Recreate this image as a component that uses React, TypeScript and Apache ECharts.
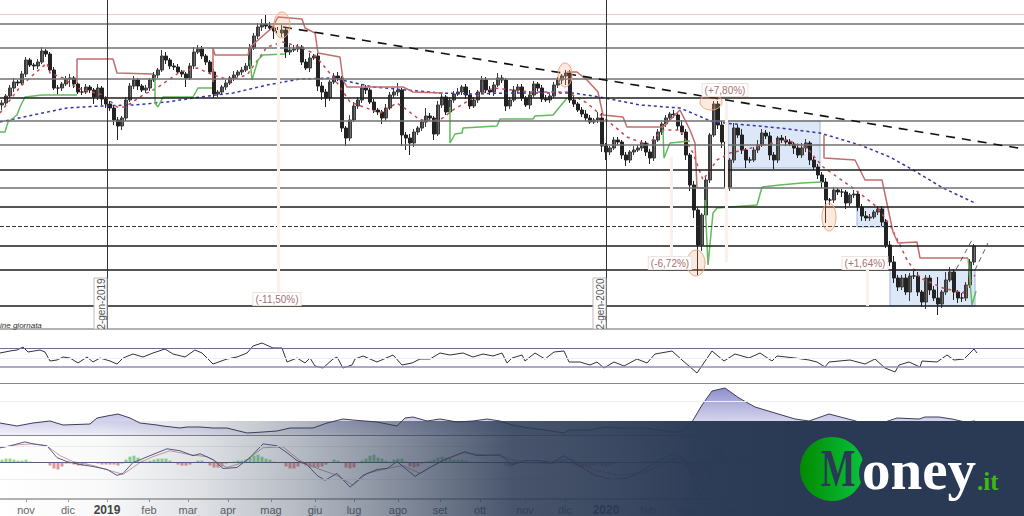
import React, { useEffect, useRef } from "react";
import * as echarts from "echarts";

// All price readings are depths: the price axis runs downward.
const closes = [
  103,96,88,82,83,74,60,65,66,62, 51,54,70,88,88,84,79,78,84,92,
  92,87,90,97,88,99,104,108,120,126, 118,100,86,80,86,90,88,80,75,70,
  56,60,66,67,72,74,78,66,52,49, 56,62,72,94,92,87,83,78,75,72,
  70,66,48,36,27,24,26,28,31,33, 30,52,50,49,47,62,68,58,56,86,
  92,98,82,76,78,128,138,120,106,100, 88,90,102,110,112,118,108,95,92,90,
  135,138,143,132,128,122,116,118,134,105, 97,112,100,94,92,87,95,106,100,92,
  80,90,92,85,78,80,106,100,90,87, 98,105,95,84,88,99,100,96,85,80,
  76,73,100,104,110,114,118,122,120,118, 146,152,148,140,142,155,160,152,150,148,
  143,152,158,140,132,124,118,114,115,126, 132,155,185,210,245,215,180,135,104,125,
  142,187,160,128,135,150,160,160,150,145, 133,136,155,160,138,140,142,144,148,155,
  148,143,160,167,175,182,200,200,190,192, 192,203,195,194,207,216,218,217,212,209,
  222,245,262,278,287,278,292,276,276,292, 302,278,290,298,304,292,280,272,292,298,
  298,285,262,246,
];
const upperWicks = [
  3,2,3,4,2,3,3,2,2,3, 4,2,2,3,3,2,3,4,2,2, 5,3,2,2,4,2,3,3,2,3, 2,3,3,4,2,2,3,2,3,2,
  6,4,2,3,3,2,2,3,5,4, 3,2,2,3,2,2,3,2,4,2, 3,3,4,3,4,5,9,4,5,4, 5,3,5,4,3,2,3,5,2,3,
  4,3,2,3,4,2,2,5,4,3, 4,3,2,3,2,2,4,3,4,7, 2,3,4,3,2,3,8,3,2,4, 3,2,3,3,4,2,3,5,3,2,
  4,3,4,3,5,3,2,3,4,3, 3,2,4,3,2,3,4,2,3,3, 2,3,3,4,2,3,4,3,2,6, 5,3,2,3,3,2,3,2,4,3,
  3,2,3,4,3,2,3,2,4,3, 6,3,2,4,3,2,3,2,3,3, 4,3,2,5,3,6,2,3,3,5, 4,3,4,3,2,3,4,3,2,3,
  5,4,2,3,3,3,4,2,3,2, 3,2,2,4,3,3,5,3,2,3, 3,3,4,6,3,3,4,3,5,4, 2,3,3,4,21,2,8,5,3,2,
  5,3,3,2,4,3,5,3,2,6, 3,3,4,3,
];
const lowerWicks = [
  5,3,2,4,3,2,3,2,4,3, 2,3,3,2,6,3,2,8,4,2, 3,2,3,7,3,6,4,3,5,14, 4,3,2,3,4,2,3,3,2,3,
  2,4,3,3,2,3,9,2,3,2, 3,3,2,4,3,2,3,2,3,2, 3,2,3,2,3,4,3,2,8,3, 4,6,3,2,3,3,2,4,2,5,
  8,9,3,2,3,4,8,3,2,3, 3,4,2,3,3,6,3,2,3,4, 11,12,12,4,3,3,5,3,6,2, 3,3,2,3,2,3,4,3,2,3,
  2,3,3,4,2,3,5,3,2,3, 3,2,4,2,3,3,2,3,2,3, 4,9,3,3,2,3,3,2,2,3, 6,8,3,2,3,4,6,3,3,2,
  3,4,6,3,2,3,3,2,3,4, 3,5,6,8,30,6,4,3,2,4, 6,12,4,3,3,4,8,3,2,3, 2,3,5,9,3,3,4,2,6,3,
  3,4,5,3,4,6,23,5,3,3, 5,6,3,3,4,5,3,3,2,3, 4,3,4,5,4,3,3,9,3,4, 5,7,5,3,11,4,3,2,8,5,
  4,3,3,3,
];

const blueAverage = [[0,122],[33,115],[67,108],[100,106],[133,105],[167,102],[200,97],[233,93],[267,85],[300,79],[333,78],[373,87],[407,90],[440,93],[473,94],[507,93],[540,93],[573,93],[600,97],[640,105],[680,108],[713,122],[747,125],[780,128],[820,133],[860,145],[890,157],[913,170],[943,188],[975,203]];
const redAverage = [[0,113],[10,100],[20,87],[33,75],[47,63],[50,73],[63,78],[77,88],[103,95],[117,107],[125,107],[143,95],[157,88],[180,72],[197,68],[213,75],[230,80],[247,75],[267,47],[283,42],[300,47],[313,53],[333,77],[340,87],[350,102],[380,113],[397,103],[407,110],[420,120],[440,120],[453,110],[473,98],[493,88],[530,92],[567,92],[587,103],[603,117],[627,137],[647,145],[663,130],[680,130],[693,153],[703,180],[717,160],[730,153],[743,150],[763,145],[787,140],[807,148],[823,167],[853,188],[877,207],[890,225],[900,245],[907,260],[920,278],[943,288],[963,293],[975,275]];
const redStops = [
  [[77,83],[77,59],[113,59],[117,73],[153,74]],
  [[213,82],[213,48],[215,55],[248,55],[250,47],[272,28],[278,17],[302,19],[305,28],[315,33],[318,53],[340,57],[343,80],[347,87],[403,87],[413,92],[443,93]],
  [[567,72],[577,72],[587,80],[598,92],[603,115],[623,117],[627,127],[663,127],[680,110],[690,130],[695,143],[697,188],[705,188]],
  [[824,135],[824,158],[855,160],[865,180],[882,180],[893,232],[898,243],[917,242],[920,258],[968,258]],
];
const greenStops = [
  [[0,132],[5,132],[8,122],[17,115],[20,107],[25,97],[42,95],[77,95]],
  [[155,77],[155,103],[158,107],[163,97],[193,97],[198,88],[212,88]],
  [[250,60],[252,80],[258,60],[263,55],[285,54]],
  [[450,107],[450,143],[455,134],[462,133],[463,128],[497,126],[500,119],[533,119],[535,116],[553,115],[567,98]],
  [[663,130],[664,158],[670,143],[690,141]],
  [[705,200],[708,265],[713,213],[717,208],[757,205],[762,187],[780,185],[802,183],[822,182]],
  [[968,258],[972,305],[976,291]],
];
const trendLine = [[283,27],[1024,149]];
const channelA = [[952,277],[973,238]];
const channelB = [[975,270],[988,243]];

const grayLevels = [24,48,79,121,145,188];
const blackLevels = [98,170,207,246,270,306];
const paleLevels = [14];
const dashedLevels = [226];
const dateLines = [107,606];
const paleDateLines: number[][] = [[278,30,292],[671,157,262],[726,100,262],[867,270,306]];

const rsi = [[0,353],[10,351],[17,350],[23,347],[28,352],[40,350],[45,352],[50,361],[57,360],[63,357],[70,358],[78,363],[87,357],[93,362],[100,358],[110,361],[117,364],[123,358],[133,354],[143,357],[153,353],[165,349],[173,354],[185,357],[195,350],[202,353],[213,364],[227,359],[237,357],[247,353],[253,346],[262,343],[273,348],[282,348],[287,362],[297,358],[305,363],[310,358],[315,366],[323,368],[333,359],[337,357],[343,368],[352,365],[355,359],[363,356],[377,362],[393,355],[402,365],[412,363],[420,359],[430,359],[440,353],[450,355],[463,353],[473,357],[483,354],[493,356],[502,353],[507,363],[512,358],[522,355],[525,361],[535,353],[545,359],[554,352],[564,351],[569,362],[580,362],[590,365],[597,362],[604,368],[614,362],[624,366],[637,359],[647,363],[655,354],[672,351],[682,360],[697,373],[712,351],[724,361],[735,354],[749,358],[760,353],[772,361],[777,356],[795,358],[809,360],[817,362],[825,367],[829,362],[850,360],[865,364],[875,359],[885,368],[895,372],[899,365],[909,362],[920,367],[922,361],[937,362],[947,355],[954,360],[964,359],[974,349],[977,353]];
const rsiUpper = 348.5;
const rsiMiddle = 358;
const rsiLower = 366.5;

const volatility = [[0,423],[17,426],[33,423],[50,421],[63,425],[90,424],[97,418],[107,416],[118,414],[130,418],[140,423],[157,425],[163,426],[180,428],[187,427],[200,427],[213,428],[227,428],[247,433],[263,432],[277,431],[290,428],[313,428],[327,423],[343,419],[353,420],[377,422],[397,426],[405,418],[413,417],[427,421],[440,419],[457,422],[473,421],[487,419],[500,421],[512,425],[529,428],[545,430],[564,433],[569,430],[589,430],[605,427],[622,428],[645,428],[672,432],[682,431],[692,422],[702,405],[712,391],[725,388],[739,398],[755,407],[775,413],[795,419],[809,421],[829,414],[852,420],[859,422],[879,424],[897,418],[919,419],[925,417],[939,417],[952,419],[965,422],[975,421]];

const macdFast = [[0,15],[10,17],[25,21],[33,19],[47,17],[57,5],[67,1],[80,-2],[93,-4],[107,-7],[117,-13],[123,-11],[133,0],[150,7],[167,14],[180,12],[193,7],[200,9],[213,3],[223,-6],[237,-5],[250,5],[263,19],[277,17],[287,10],[297,2],[307,-2],[317,-13],[325,-18],[337,-11],[350,-25],[363,-13],[377,-7],[387,-6],[397,1],[415,-14],[430,-5],[447,4],[465,11],[477,7],[500,8],[512,-2],[525,2],[539,2],[552,0],[564,7],[579,-3],[595,-13],[612,-17],[627,-16],[645,-7],[659,3],[675,9],[685,3],[695,-22],[700,-34],[709,-20],[715,15],[725,0],[739,7],[752,0],[765,7],[779,2],[812,2],[845,0],[879,2]];
const macdSlow = [[0,15],[17,18],[33,19],[47,17],[60,7],[73,1],[93,-3],[113,-9],[123,-12],[140,0],[153,6],[170,12],[190,8],[207,6],[227,-5],[243,0],[263,15],[283,16],[300,2],[320,-7],[337,-13],[353,-23],[367,-11],[387,-6],[403,-3],[420,-11],[440,1],[463,10],[480,8],[500,7],[512,3],[525,0],[552,-1],[570,4],[595,-8],[620,-13],[645,-10],[670,2],[680,6],[695,-8],[705,-30],[720,0],[735,5],[755,2],[780,2],[830,1],[880,1]];
const macdHist = [
  3,4,4,3,2,2,3,1,0,0, 0,0,-3,-6,-7,-4,-1,-1,-2,-3, -3,-1,0,0,-1,-2,-2,-2,-2,-3, -1,3,6,7,5,2,1,2,3,4,
  4,4,2,0,-2,-3,-3,-2,0,2, 2,0,-3,-5,-5,-4,-1,0,1,2, 2,3,5,7,8,6,4,3,1,0, 0,-4,-6,-6,-4,-1,-3,-5,-5,-5,
  -4,-2,0,3,2,0,-5,-6,-5,0, 2,4,7,8,5,4,2,1,3,4, 4,1,-4,-5,-4,-1,1,2,3,5, 6,5,4,3,3,3,2,0,0,0,
  0,0,0,0,0,0,-3,-4,-3,-1, 0,0,0,0,0,0,0,1,2,3, 3,2,-1,-3,-4,-5,-4,-4,-3,-2, -4,-4,-3,-1,0,0,0,0,0,0,
  0,1,1,2,2,3,4,5,4,2, -3,-7,-11,-15,-16,-12,-8,3,12,18, 16,6,2,0,3,4,2,
];

const monthPositions = [26,68,107,149,188,228,271,315,354,398,440,480,525,565,606,648,687,730,772,814];
const monthLabels = ["nov","dic","2019","feb","mar","apr","mag","giu","lug","ago","set","ott","nov","dic","2020","feb","mar","apr","mag","giu"];
const dateTags = ["2-gen-2019","2-gen-2020"];
const noteText = "ine giornata";
const percentTags = ["(-11,50%)","(-6,72%)","(+7,80%)","(+1,64%)"];

const PANEL_W = 1024;
const candleCount = 256;
const labels = Array.from({ length: candleCount }, (_, i) => String(i));

function levelSeries(xAxisIndex: number, yAxisIndex: number, marks: any[]) {
  return {
    type: "line", xAxisIndex, yAxisIndex, data: [], z: 1, silent: true,
    markLine: { silent: true, symbol: ["none", "none"], label: { show: false }, animation: false, data: marks },
  };
}
const level = (v: number, color: string, width: number, type = "solid") => ({ yAxis: v, lineStyle: { color, width, type, opacity: 1 } });

function lineSeries(xAxisIndex: number, yAxisIndex: number, data: number[][], color: string, width: number, type: any = "solid", z = 4) {
  return { type: "line", xAxisIndex, yAxisIndex, data, symbol: "none", showSymbol: false, z, silent: true, lineStyle: { color, width, type } };
}

const tagText = (text: string, x: number, y: number) => ({
  type: "text", x, y, z: 40,
  style: {
    text, fill: "#a87070", font: '10px "Liberation Sans", Arial, sans-serif',
    align: "center", verticalAlign: "middle", textAlign: "center", textVerticalAlign: "middle",
    backgroundColor: "#fff", borderColor: "#f0e2dc", borderWidth: 1, padding: [1, 2, 1, 2],
  },
});
const ring = (cx: number, cy: number, rx: number, ry: number) => ({
  type: "ellipse", z: 30, shape: { cx, cy, rx, ry },
  style: { fill: "rgba(240,160,110,0.22)", stroke: "#eaa983", lineWidth: 1 },
});
const zone = (x: number, y: number, width: number, height: number) => ({
  type: "rect", z: 0, shape: { x, y, width, height },
  style: { fill: "#dce7f7", stroke: "#9fb8dc", lineWidth: 1 },
});
const dateTag = (text: string, x: number) => ({
  type: "group", z: 20, children: [
    { type: "rect", z: 20, shape: { x: x - 7, y: 278, width: 13, height: 51 }, style: { fill: "#fff", stroke: "#bbb", lineWidth: 1 } },
    { type: "text", z: 21, x, y: 304, rotation: Math.PI / 2, style: { text, fill: "#555", font: '10px "Liberation Sans", Arial, sans-serif', align: "center", verticalAlign: "middle", textAlign: "center", textVerticalAlign: "middle" } },
  ],
});
const logoText = (text: string, x: number, y: number, font: string, fill: string, scaleX = 1) => ({
  type: "text", z: 104, x, y, scaleX,
  style: { text, font, fill, align: "left", verticalAlign: "bottom", textAlign: "left", textVerticalAlign: "bottom" },
});

export default function App() {
  const ref = useRef<HTMLDivElement>(null);
  useEffect(() => {
    document.body.style.margin = "0";
    document.body.style.overflow = "hidden";
    document.body.style.background = "#fff";
    const chart = echarts.init(ref.current!, null, { renderer: "svg" });

    const candles = closes.map((c, i) => {
      const o = i === 0 ? c + 2 : closes[i - 1];
      return [o, c, Math.max(o, c) + (lowerWicks[i] ?? 2), Math.min(o, c) - (upperWicks[i] ?? 2)];
    });

    const hidden = (gridIndex: number, extra: any = {}) => ({ type: "value", gridIndex, min: 0, max: PANEL_W, show: false, ...extra });
    const depth = (gridIndex: number, min: number, max: number) => ({ type: "value", gridIndex, min, max, inverse: true, show: false });
    const labelMap: Record<number, string> = {};
    monthPositions.forEach((p, i) => (labelMap[p] = monthLabels[i]));

    const option: any = {
      animation: false,
      backgroundColor: "#fff",
      grid: [
        { left: 0, top: 0, width: PANEL_W, height: 329 },
        { left: 0, top: 329, width: PANEL_W, height: 54 },
        { left: 0, top: 383, width: PANEL_W, height: 52 },
        { left: 0, top: 435, width: PANEL_W, height: 65 },
      ],
      xAxis: [
        { type: "category", gridIndex: 0, data: labels, show: false },
        hidden(0),
        hidden(1),
        hidden(2),
        {
          type: "value", gridIndex: 3, min: 0, max: PANEL_W, position: "bottom",
          splitLine: { show: false },
          axisLine: { onZero: false, lineStyle: { color: "#999", width: 1.5 } },
          axisTick: { show: true, length: 3, inside: false, customValues: monthPositions, lineStyle: { color: "#999" } },
          axisLabel: {
            show: true, margin: 5, customValues: monthPositions, color: "#666", fontSize: 11,
            fontFamily: '"Liberation Sans", Arial, sans-serif',
            formatter: (v: number) => { const t = labelMap[v] ?? ""; return /^\d/.test(t) ? `{y|${t}}` : t; },
            rich: { y: { fontWeight: "bold", fontSize: 12, color: "#444", fontFamily: '"Liberation Sans", Arial, sans-serif' } },
          },
        },
        { type: "category", gridIndex: 3, data: labels, show: false },
      ],
      yAxis: [
        depth(0, 0, 329),
        depth(1, 329, 383),
        depth(2, 383, 435),
        { type: "value", gridIndex: 3, min: -37, max: 28, show: false },
      ],
      series: [
        levelSeries(1, 0, [
          ...paleLevels.map((v) => level(v, "#eccdc8", 1)),
          ...grayLevels.map((v) => level(v, "#707070", 1.5)),
          ...blackLevels.map((v) => level(v, "#1c1c1c", 1.5)),
          ...dashedLevels.map((v) => level(v, "#333", 1, "dashed")),
          level(329, "#999", 1.5),
          ...dateLines.map((x) => ({ xAxis: x, lineStyle: { color: "#333", width: 1, type: "solid" } })),
          ...paleDateLines.map(([x, a, b]) => [
            { coord: [x, a], lineStyle: { color: "#fbf1ec", width: 3, type: "solid" } },
            { coord: [x, b] },
          ]),
        ]),
        levelSeries(2, 1, [level(rsiUpper, "#6e6a90", 1.2), level(rsiMiddle, "#eeeeee", 1), level(rsiLower, "#8f8cc0", 1.5), level(383, "#888", 1.2)]),
        levelSeries(3, 2, [level(401, "#eeeeee", 1), level(435, "#888", 1.2)]),
        levelSeries(4, 3, [level(17, "#eeeeee", 1), level(0, "#5c5c80", 1), level(-17, "#eeeeee", 1)]),
        {
          type: "candlestick", xAxisIndex: 0, yAxisIndex: 0, data: candles, z: 3, barWidth: 3, silent: true,
          itemStyle: { color: "#222", color0: "#6f7070", borderColor: "#222", borderColor0: "#3a3a3a", borderWidth: 1 },
        },
        lineSeries(1, 0, blueAverage, "#3636a4", 1.5, [3, 3]),
        lineSeries(1, 0, redAverage, "#c8474f", 1.5, [3, 4]),
        ...redStops.map((d) => lineSeries(1, 0, d, "#c46d6d", 1.5)),
        ...greenStops.map((d) => lineSeries(1, 0, d, "#62bb5e", 1.5)),
        lineSeries(1, 0, trendLine, "#111", 1.6, [9, 7], 5),
        lineSeries(1, 0, channelA, "#333", 0.8, [5, 4], 5),
        lineSeries(1, 0, channelB, "#333", 0.8, [5, 4], 5),
        lineSeries(2, 1, rsi, "#333", 1),
        {
          ...lineSeries(3, 2, volatility, "#3e3e58", 1),
          areaStyle: {
            origin: "end",
            color: new echarts.graphic.LinearGradient(0, 0, 0, 1, [
              { offset: 0, color: "#8f8fcf" },
              { offset: 1, color: "#f2f2fa" },
            ]),
            opacity: 1,
          },
        },
        {
          type: "bar", xAxisIndex: 5, yAxisIndex: 3, data: macdHist, barWidth: 3, z: 2, silent: true,
          itemStyle: { color: (p: any) => (p.value >= 0 ? "#8fd69a" : "#dd9a9a") },
        },
        lineSeries(4, 3, macdSlow, "#c9a0a8", 1),
        lineSeries(4, 3, macdFast, "#5a5a82", 1),
      ],
      graphic: { elements: [
        zone(728, 121, 92, 47),
        zone(857, 207, 27, 20),
        zone(890, 270, 85, 36),
        ring(282, 25, 8, 13),
        ring(565, 75, 7, 12),
        ring(711, 102, 11, 8),
        ring(829, 217, 7, 14),
        ring(696, 263, 9, 13),
        tagText(percentTags[0], 277, 299),
        tagText(percentTags[1], 670, 263),
        tagText(percentTags[2], 725, 90),
        tagText(percentTags[3], 865, 263),
        dateTag(dateTags[0], 101),
        dateTag(dateTags[1], 600),
        { type: "text", z: 20, x: 0, y: 325, style: { text: noteText, fill: "#333", font: 'italic 8px "Liberation Sans", Arial, sans-serif', align: "left", verticalAlign: "middle", textAlign: "left", textVerticalAlign: "middle" } },
        {
          type: "rect", z: 100, shape: { x: 0, y: 421, width: 1024, height: 95 },
          style: { fill: new echarts.graphic.LinearGradient(0, 0, 1, 0, [
            { offset: 0, color: "rgba(42,57,84,0)" },
            { offset: 0.1, color: "rgba(42,57,84,0.03)" },
            { offset: 0.195, color: "rgba(42,57,84,0.15)" },
            { offset: 0.293, color: "rgba(42,57,84,0.35)" },
            { offset: 0.39, color: "rgba(42,57,84,0.58)" },
            { offset: 0.5, color: "rgba(42,57,84,0.86)" },
            { offset: 0.586, color: "rgba(42,57,84,0.91)" },
            { offset: 0.684, color: "rgba(42,57,84,0.98)" },
            { offset: 0.78, color: "rgba(42,57,84,1)" },
            { offset: 1, color: "rgba(42,57,84,1)" },
          ]) },
        },
        {
          type: "circle", z: 101, shape: { cx: 832, cy: 469, r: 32 },
          style: { fill: new echarts.graphic.LinearGradient(0, 0, 1, 0, [
            { offset: 0, color: "#008a00" },
            { offset: 1, color: "#0bc23e" },
          ]) },
        },
        { type: "circle", z: 102, shape: { cx: 884, cy: 473, r: 25 }, style: { fill: "#2a3954" } },
        logoText("M", 821, 495, 'bold 52px "Liberation Serif", serif', "#2a3954", 0.7),
        logoText("oney", 862, 498, 'bold 57px "Liberation Serif", serif', "#ffffff"),
        logoText(".it", 977, 494, 'bold 25px "Liberation Serif", serif', "#3fb810"),
      ] },
    };
    chart.setOption(option);
    return () => chart.dispose();
  }, []);
  return <div ref={ref} style={{ width: 1024, height: 516 }} />;
}
